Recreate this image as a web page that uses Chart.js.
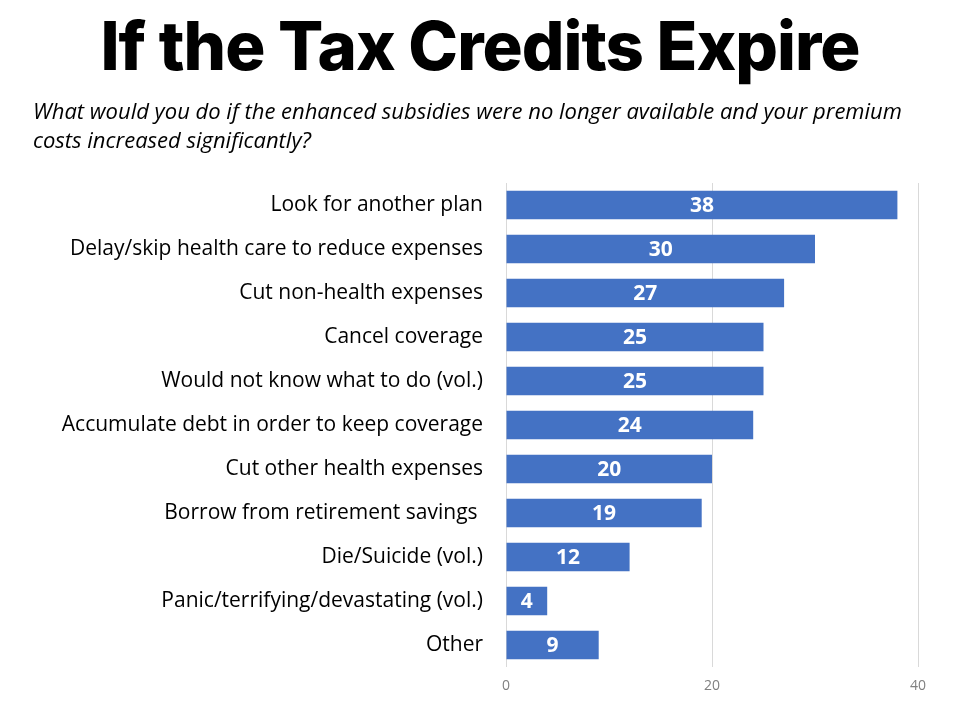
<!DOCTYPE html>
<html>
<head>
<meta charset="utf-8">
<script src="https://cdn.jsdelivr.net/npm/chart.js@4"></script>
<style>
  html, body { margin: 0; padding: 0; background: #fff; }
  #wrap { position: relative; width: 960px; height: 720px; }
  #title {
    position: absolute; left: 0; top: 3px; width: 960px; text-align: center;
    font-family: "Inter", sans-serif; font-weight: 800; font-size: 67px;
    letter-spacing: -1px; color: #000; line-height: 86px;
  }
  #subtitle {
    position: absolute; left: 33px; top: 96px; width: 927px;
    font-family: "Open Sans", sans-serif; font-style: italic; font-size: 22px;
    line-height: 29px; color: #000; white-space: nowrap;
  }
  canvas { position: absolute; left: 0; top: 0; }
</style>
</head>
<body>
<div id="wrap">
  <canvas id="chart" width="960" height="720"></canvas>
  <div id="title">If the Tax Credits Expire</div>
  <div id="subtitle">What would you do if the enhanced subsidies were no longer available and your premium<br>costs increased significantly?</div>
</div>
<script>
// answers, top to bottom
const categories = [
  "Look for another plan",
  "Delay/skip health care to reduce expenses",
  "Cut non-health expenses",
  "Cancel coverage",
  "Would not know what to do (vol.)",
  "Accumulate debt in order to keep coverage",
  "Cut other health expenses",
  "Borrow from retirement savings ",
  "Die/Suicide (vol.)",
  "Panic/terrifying/devastating (vol.)",
  "Other"
];
const percents = [38, 30, 27, 25, 25, 24, 20, 19, 12, 4, 9];
const xTicks = [0, 20, 40];

// write the value in the middle of each bar
const barValues = {
  id: "barValues",
  afterDatasetsDraw(chart) {
    const ctx = chart.ctx;
    const meta = chart.getDatasetMeta(0);
    ctx.save();
    ctx.fillStyle = "#fff";
    ctx.font = "bold 21px 'Open Sans', sans-serif";
    ctx.textAlign = "center";
    ctx.textBaseline = "middle";
    meta.data.forEach((bar, i) => {
      const mid = (bar.x + bar.base) / 2;
      ctx.fillText(String(chart.data.datasets[0].data[i]), mid, bar.y + 1);
    });
    ctx.restore();
  }
};

new Chart(document.getElementById("chart"), {
  type: "bar",
  data: {
    labels: categories,
    datasets: [{
      data: percents,
      backgroundColor: "#4472C4",
      barPercentage: 0.65,
      categoryPercentage: 1
    }]
  },
  options: {
    indexAxis: "y",
    responsive: false,
    animation: false,
    layout: { padding: { top: 183, right: 42, bottom: 13, left: 0 } },
    plugins: {
      legend: { display: false },
      tooltip: { enabled: false }
    },
    scales: {
      x: {
        min: 0,
        max: 40,
        afterBuildTicks: (scale) => { scale.ticks = xTicks.map(v => ({ value: v })); },
        afterFit: (scale) => { scale.height = 40; },
        border: { display: false },
        grid: { color: "#d9d9d9", drawTicks: false },
        ticks: { color: "#808080", padding: 11, font: { family: "Open Sans", size: 14 } }
      },
      y: {
        afterFit: (scale) => { scale.width = 506; },
        border: { display: false },
        grid: { display: false },
        ticks: { color: "#000", padding: 15, font: { family: "Open Sans", size: 21 } }
      }
    }
  },
  plugins: [barValues]
});
</script>
</body>
</html>
